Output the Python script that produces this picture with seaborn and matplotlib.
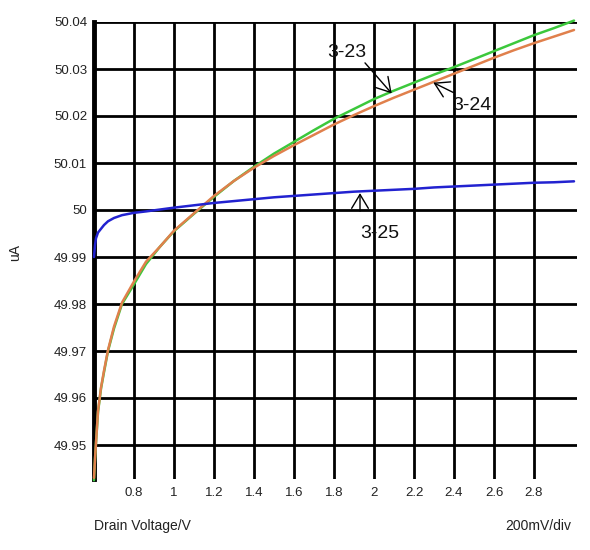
import numpy as np
import pandas as pd
import matplotlib
matplotlib.use("Agg")
import matplotlib.pyplot as plt
import seaborn as sns

# ---- data ----
voltage = [0.6, 0.605, 0.61, 0.62, 0.635, 0.65, 0.67, 0.7, 0.74, 0.8, 0.86, 0.93,
           1.0, 1.1, 1.2, 1.3, 1.4, 1.5, 1.6, 1.7, 1.8, 1.9, 2.0, 2.1, 2.2, 2.3,
           2.4, 2.5, 2.6, 2.7, 2.8, 2.9, 3.0]
curve_3_23 = [49.9425, 49.947, 49.9505, 49.957, 49.962, 49.9655, 49.970, 49.9748,
              49.980, 49.9842, 49.9885, 49.9922, 49.9955, 49.9992, 50.0028, 50.0062,
              50.0092, 50.0120, 50.0145, 50.0170, 50.0194, 50.0215, 50.0236, 50.0254,
              50.0271, 50.0288, 50.0304, 50.0321, 50.0338, 50.0355, 50.0372, 50.0387,
              50.0403]
curve_3_24 = [49.943, 49.947, 49.9505, 49.9572, 49.9622, 49.9658, 49.9702, 49.9752,
              49.9803, 49.9848, 49.989, 49.9922, 49.9956, 49.9993, 50.0030, 50.0062,
              50.0090, 50.0115, 50.0138, 50.0160, 50.0182, 50.0202, 50.0221, 50.0239,
              50.0256, 50.0273, 50.0290, 50.0307, 50.0324, 50.0340, 50.0355, 50.0369,
              50.0383]
curve_3_25 = [49.990, 49.9925, 49.994, 49.9952, 49.996, 49.9968, 49.9976, 49.9983,
              49.9989, 49.9994, 49.9997, 50.0001, 50.0005, 50.0010, 50.0015, 50.0019,
              50.0023, 50.0027, 50.0030, 50.0033, 50.0036, 50.0039, 50.0041, 50.0043,
              50.0045, 50.0048, 50.0050, 50.0052, 50.0054, 50.0056, 50.0058, 50.0059,
              50.0061]
x_ticks = [0.8, 1.0, 1.2, 1.4, 1.6, 1.8, 2.0, 2.2, 2.4, 2.6, 2.8]
x_tick_labels = ["0.8", "1", "1.2", "1.4", "1.6", "1.8", "2", "2.2", "2.4", "2.6", "2.8"]
y_ticks = [49.95, 49.96, 49.97, 49.98, 49.99, 50.0, 50.01, 50.02, 50.03, 50.04]
y_tick_labels = ["49.95", "49.96", "49.97", "49.98", "49.99", "50", "50.01", "50.02", "50.03", "50.04"]
series_names = ["3-23", "3-24", "3-25"]

sns.set_style("white")
plt.rcParams['font.family'] = ['Liberation Sans', 'DejaVu Sans']

fig = plt.figure(figsize=(5.9, 5.5), dpi=100)
ax = fig.add_axes([94/590, 1 - 479/550, (577 - 94)/590, (479 - 22)/550])

# grid
for xv in x_ticks:
    ax.axvline(xv, color="black", lw=2.0, zorder=1)
for yv in y_ticks:
    ax.axhline(yv, color="black", lw=2.0, zorder=1)

colors = {"3-23": "#3cc83c", "3-24": "#e0804c", "3-25": "#2222d0"}
for name, vals in zip(series_names, [curve_3_23, curve_3_24, curve_3_25]):
    df = pd.DataFrame({"V": voltage, "I": vals})
    sns.lineplot(data=df, x="V", y="I", ax=ax, color=colors[name], lw=1.8,
                 zorder=5, estimator=None, sort=False, clip_on=False)

ax.set_xlim(0.6, 0.6 + 483/200)
ax.set_ylim(50.04 - 457/4700, 50.04)

ax.set_xticks(x_ticks)
ax.set_xticklabels(x_tick_labels)
ax.set_yticks(y_ticks)
ax.set_yticklabels(y_tick_labels)
ax.tick_params(axis="both", length=0, labelsize=9.5, colors="#222222")
ax.tick_params(axis="x", pad=6)
ax.tick_params(axis="y", pad=5)

for s in ["top", "right", "bottom"]:
    ax.spines[s].set_visible(False)
ax.spines["left"].set_linewidth(3.5)
ax.spines["left"].set_color("black")
ax.spines["left"].set_zorder(2)

ax.set_xlabel("")
ax.set_ylabel("")
fig.text(15/590, 1 - 252/550, "uA", rotation=90, ha="center", va="center",
         fontsize=10, color="#222222")
fig.text(94/590, 1 - 526/550, "Drain Voltage/V", ha="left", va="center",
         fontsize=10, color="#222222")
fig.text(571/590, 1 - 526/550, "200mV/div", ha="right", va="center",
         fontsize=10, color="#222222")

arrow = dict(arrowstyle="->,head_length=0.5,head_width=0.3", color="black", lw=1.0,
             mutation_scale=20, shrinkA=0, shrinkB=0)
# labels
ax.text(1.862, 50.0336, "3-23", ha="center", va="center", fontsize=14, color="#111111", zorder=6)
ax.text(2.4885, 50.0223, "3-24", ha="center", va="center", fontsize=14, color="#111111", zorder=6)
ax.text(2.03, 49.9949, "3-25", ha="center", va="center", fontsize=14, color="#111111", zorder=6)
# arrows
ax.annotate("", xy=(2.0885, 50.0248), xytext=(1.955, 50.0313), arrowprops=arrow, zorder=6)
ax.annotate("", xy=(2.2965, 50.0271), xytext=(2.3965, 50.0250), arrowprops=arrow, zorder=6)
ax.annotate("", xy=(1.93, 50.0036), xytext=(1.93, 49.99975), arrowprops=arrow, zorder=6)

fig.savefig("out.png", dpi=100)
